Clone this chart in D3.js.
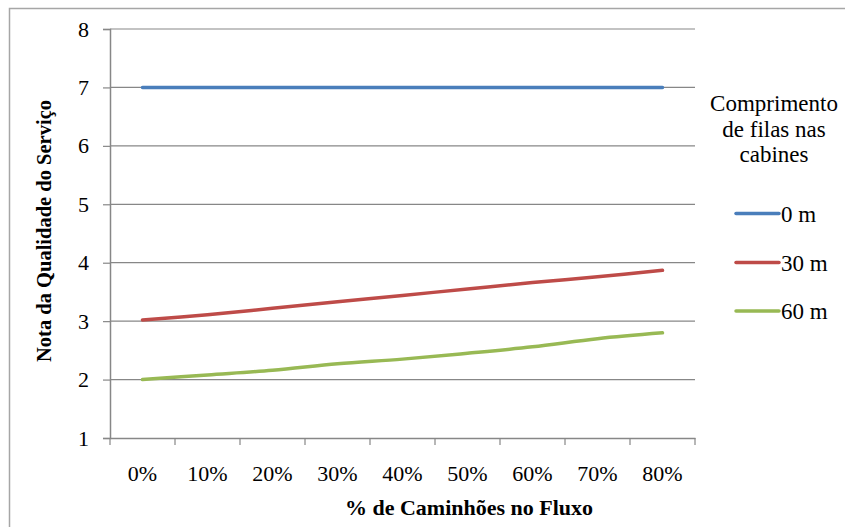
<!DOCTYPE html>
<html>
<head>
<meta charset="utf-8">
<script src="https://cdn.jsdelivr.net/npm/d3@7"></script>
<style>
  html, body { margin: 0; padding: 0; background: #fff; }
  svg { display: block; }
</style>
</head>
<body>
<svg id="chart" width="845" height="527"></svg>
<script>
// Categories: share of trucks in the flow
const categories = ["0%", "10%", "20%", "30%", "40%", "50%", "60%", "70%", "80%"];

// Service quality score per queue length at the booths
const serie0m  = [7, 7, 7, 7, 7, 7, 7, 7, 7];
const serie30m = [3.02, 3.11, 3.22, 3.33, 3.44, 3.55, 3.66, 3.76, 3.87];
const serie60m = [2.0, 2.08, 2.16, 2.27, 2.35, 2.45, 2.56, 2.70, 2.80];

const seriesNames  = ["0 m", "30 m", "60 m"];
const seriesColors = ["#4a7ebb", "#be4b48", "#98b954"];
const yTicks = [1, 2, 3, 4, 5, 6, 7, 8];

const FONT = "'Liberation Serif', 'Times New Roman', serif";

const series = [serie0m, serie30m, serie60m].map((values, i) => ({
  name: seriesNames[i], color: seriesColors[i], values
}));

const svg = d3.select("#chart");

// Outer chart frame
svg.append("rect")
  .attr("x", 9.5).attr("y", 8.5)
  .attr("width", 845).attr("height", 527)
  .attr("fill", "none").attr("stroke", "#a6a6a6").attr("stroke-width", 1.5);

const plot = { left: 110, right: 695, top: 29, bottom: 438 };

const x = d3.scaleBand().domain(categories).range([plot.left, plot.right]);
const y = d3.scaleLinear().domain([1, 8]).range([plot.bottom, plot.top]);

// Horizontal gridlines
svg.append("g")
  .selectAll("line")
  .data(yTicks.slice(1))
  .join("line")
  .attr("x1", plot.left).attr("x2", plot.right)
  .attr("y1", d => y(d)).attr("y2", d => y(d))
  .attr("stroke", "#878787").attr("stroke-width", 1.2);

// Y axis
const yAxis = svg.append("g")
  .attr("transform", `translate(${plot.left},0)`)
  .call(d3.axisLeft(y).tickValues(yTicks).tickSize(7).tickPadding(14).tickFormat(d3.format("d")));
yAxis.select(".domain").attr("stroke", "#878787").attr("stroke-width", 1.5);
yAxis.selectAll(".tick line").attr("stroke", "#878787").attr("stroke-width", 1.2);
yAxis.selectAll(".tick text")
  .style("font-size", "22px").style("font-family", FONT).attr("fill", "#000");

// X axis: ticks on band boundaries
const xAxis = svg.append("g")
  .attr("transform", `translate(0,${plot.bottom})`)
  .call(d3.axisBottom(x).tickSize(0));
xAxis.select(".domain").attr("stroke", "#878787").attr("stroke-width", 1.5);
xAxis.selectAll(".tick text")
  .attr("y", 43).attr("dy", 0)
  .style("font-size", "22px").style("font-family", FONT).attr("fill", "#000");

const boundaries = categories.map(c => x(c)).concat([x(categories[categories.length - 1]) + x.bandwidth()]);
svg.append("g")
  .selectAll("line")
  .data(boundaries)
  .join("line")
  .attr("x1", d => d).attr("x2", d => d)
  .attr("y1", plot.bottom).attr("y2", plot.bottom + 7)
  .attr("stroke", "#878787").attr("stroke-width", 1.2);

// Axis titles
svg.append("text")
  .attr("x", 469).attr("y", 515)
  .attr("text-anchor", "middle")
  .style("font-family", FONT).style("font-size", "22px").style("font-weight", "bold")
  .text("% de Caminhões no Fluxo");

svg.append("text")
  .attr("transform", "translate(51,231) rotate(-90)")
  .attr("text-anchor", "middle")
  .style("font-family", FONT).style("font-size", "20.5px").style("font-weight", "bold")
  .text("Nota da Qualidade do Serviço");

// Smoothed series lines
const line = d3.line()
  .x((d, i) => x(categories[i]) + x.bandwidth() / 2)
  .y(d => y(d))
  .curve(d3.curveCatmullRom.alpha(0.5));

svg.append("g")
  .selectAll("path")
  .data(series)
  .join("path")
  .attr("d", d => line(d.values))
  .attr("fill", "none")
  .attr("stroke", d => d.color)
  .attr("stroke-width", 3.5)
  .attr("stroke-linecap", "round");

// Legend
const legendTitle = ["Comprimento", "de filas nas", "cabines"];
svg.append("g")
  .selectAll("text")
  .data(legendTitle)
  .join("text")
  .attr("x", 774).attr("y", (d, i) => 111 + i * 25.5)
  .attr("text-anchor", "middle")
  .style("font-family", FONT).style("font-size", "23px")
  .text(d => d);

const legendY = [213.5, 262.5, 311];
const legend = svg.append("g")
  .selectAll("g")
  .data(series)
  .join("g")
  .attr("transform", (d, i) => `translate(0,${legendY[i]})`);
legend.append("line")
  .attr("x1", 736).attr("x2", 779)
  .attr("stroke", d => d.color).attr("stroke-width", 3.5)
  .attr("stroke-linecap", "round");
legend.append("text")
  .attr("x", 781).attr("y", 8)
  .style("font-family", FONT).style("font-size", "23px")
  .text(d => d.name);
</script>
</body>
</html>
